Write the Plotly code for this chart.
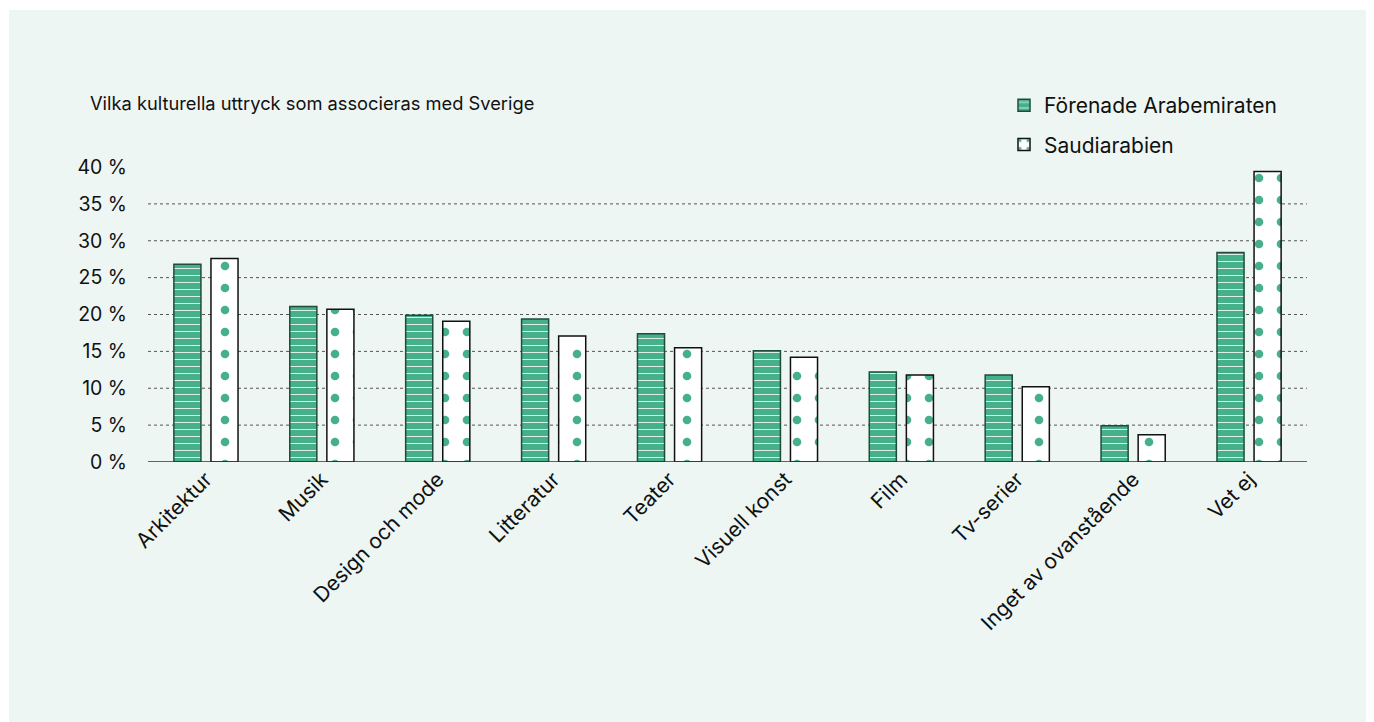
import plotly.graph_objects as go

categories = ["Arkitektur", "Musik", "Design och mode", "Litteratur", "Teater",
              "Visuell konst", "Film", "Tv-serier", "Inget av ovanstående", "Vet ej"]
uae = [26.8, 21.1, 19.9, 19.4, 17.4, 15.1, 12.2, 11.8, 4.9, 28.4]
saudi = [27.6, 20.7, 19.1, 17.1, 15.5, 14.2, 11.8, 10.2, 3.7, 39.4]
tick_vals = [0, 5, 10, 15, 20, 25, 30, 35, 40]
tick_text = [f"{v} %" for v in tick_vals]
grid_vals = [5, 10, 15, 20, 25, 30, 35]

GREEN = "#45b08a"
FONT = "Inter"

fig = go.Figure()
fig.add_trace(go.Bar(
    name="Förenade Arabemiraten", x=categories, y=uae, legendgroup="a",
    marker=dict(color=GREEN, line=dict(color="#1f4d3c", width=1.5),
                pattern=dict(shape="-", fgcolor="white", bgcolor=GREEN, fgopacity=0.8,
                             size=7, solidity=0.15, fillmode="overlay")),
))
fig.add_trace(go.Bar(
    name="Saudiarabien", x=categories, y=saudi, legendgroup="b",
    marker=dict(color="white", line=dict(color="#111111", width=1.5),
                pattern=dict(shape=".", fgcolor=GREEN, bgcolor="white", fgopacity=1,
                             size=22, solidity=0.12, fillmode="overlay")),
))

shapes = [dict(type="rect", xref="paper", yref="paper",
               x0=-139/1159, x1=1.08, y0=-1.0, y1=(462 - 10) / 295,
               fillcolor="#eef6f3", line=dict(width=0), layer="below")]
for g in grid_vals:
    shapes.append(dict(type="line", xref="paper", yref="y", x0=0, x1=1, y0=g, y1=g,
                       line=dict(color="#555555", width=1, dash="dot"), layer="below"))
shapes.append(dict(type="line", xref="paper", yref="y", x0=0, x1=1, y0=0, y1=0,
                   line=dict(color="#333333", width=1.5), layer="above"))

fig.update_layout(
    width=1374, height=722,
    margin=dict(l=140, r=75, t=159, b=268, autoexpand=False),
    paper_bgcolor="white", plot_bgcolor="rgba(0,0,0,0)",
    font=dict(family=FONT, size=18, color="#111111"),
    barmode="group", bargap=0.36, bargroupgap=0.27,
    shapes=shapes,
    showlegend=True,
    legend=dict(x=996/1374, y=1 - 77/722, xref="container", yref="container",
                xanchor="left", yanchor="top", bgcolor="rgba(0,0,0,0)",
                traceorder="grouped", tracegroupgap=9,
                font=dict(size=21)),
    annotations=[dict(text="Vilka kulturella uttryck som associeras med Sverige",
                      xref="paper", yref="paper", x=-60/1159, y=1 + 64/295,
                      xanchor="left", yanchor="middle", showarrow=False,
                      font=dict(size=18.3))],
    xaxis=dict(tickangle=-45, showgrid=False, showline=False, ticks="",
               tickfont=dict(size=21)),
    yaxis=dict(range=[0, 40], tickvals=tick_vals, ticktext=tick_text,
               showgrid=False, zeroline=False, showline=False, ticks="",
               ticklabelstandoff=20, tickfont=dict(size=19.5)),
)

fig.write_html("out.html")
